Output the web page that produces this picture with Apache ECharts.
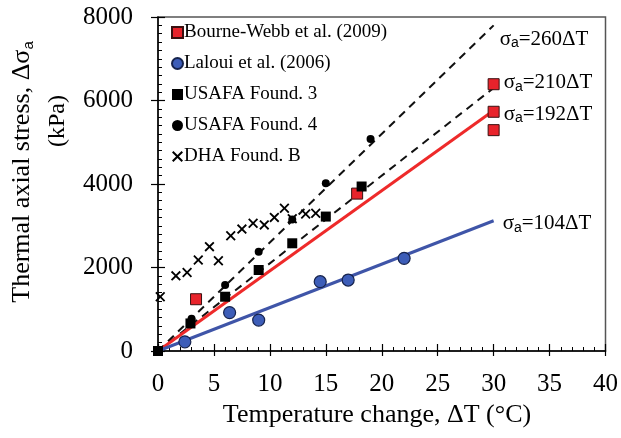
<!DOCTYPE html>
<html><head><meta charset="utf-8">
<script src="https://cdn.jsdelivr.net/npm/echarts@6/dist/echarts.min.js"></script>
<style>html,body{margin:0;padding:0;background:#fff}#c{width:621px;height:438px}</style>
</head><body><div id="c"></div>
<script>
// ---- data ----
const bourneT = [3.4, 17.8, 30, 30, 30];
const bourneS = [1240, 3770, 6390, 5730, 5290];
const lalouiT = [2.4, 6.4, 9.0, 14.5, 17.0, 22.0];
const lalouiS = [220, 920, 740, 1660, 1700, 2220];
const usafa3T = [0, 2.9, 6.0, 9.0, 12.0, 15.0, 18.2];
const usafa3S = [0, 660, 1300, 1940, 2580, 3220, 3940];
const usafa4T = [0, 3.0, 6.0, 9.0, 12.0, 15.0, 19.0];
const usafa4S = [0, 770, 1580, 2380, 3150, 4020, 5080];
const dhaT = [0.2, 1.6, 2.6, 3.6, 4.6, 5.4, 6.5, 7.5, 8.5, 9.5, 10.4, 11.3, 12.0, 13.2, 14.1];
const dhaS = [1300, 1800, 1880, 2180, 2500, 2160, 2760, 2920, 3060, 3020, 3200, 3420, 3170, 3280, 3300];
// fitted lines sigma_a = k * dT, drawn between dT = 0 and 30
const fitT = [0, 30];
const fit260 = [0, 7800];
const fit210 = [0, 6300];
const fit192 = [0, 5760];
const fit104 = [0, 3120];
const fitLabels = ['260', '210', '192', '104'];
const legendNames = ['Bourne-Webb et al. (2009)', 'Laloui et al. (2006)', 'USAFA Found. 3', 'USAFA Found. 4', 'DHA Found. B'];
const xTitle = 'Temperature change, \u0394T (\u00B0C)';

const zip = (a, b) => a.map((v, i) => [v, b[i]]);
const SERIF = 'Liberation Serif';
const crossPath = 'path://M0,1.3L1.3,0L5,3.7L8.7,0L10,1.3L6.3,5L10,8.7L8.7,10L5,6.3L1.3,10L0,8.7L3.7,5Z';

const chart = echarts.init(document.getElementById('c'), null, {renderer: 'canvas'});

function fitLine(data, color, dashed, label, offset) {
  return {
    type: 'line', data: data, symbol: 'none', z: 2, silent: true,
    lineStyle: {color: color, width: dashed ? 2 : 3, type: dashed ? [8, 6] : 'solid'},
    endLabel: {
      show: true, distance: 0, offset: offset,
      formatter: '{s|\u03C3}{sub|a}{s|=' + label + '\u0394T}',
      rich: {
        s: {fontFamily: SERIF, fontSize: 21, color: '#000', lineHeight: 22},
        sub: {fontFamily: 'Liberation Sans', fontSize: 14, color: '#000', verticalAlign: 'bottom', lineHeight: 8}
      }
    }
  };
}

const axisCommon = {
  type: 'value',
  splitLine: {show: false},
  axisLine: {show: true, onZero: false, lineStyle: {color: '#000', width: 1.5}},
};

chart.setOption({
  animation: false,
  backgroundColor: '#fff',
  grid: {left: 158, right: 12, top: 17, bottom: 87, show: true, borderColor: '#555', borderWidth: 1.5},
  xAxis: [
    Object.assign({}, axisCommon, {
      min: 0, max: 40, interval: 5,
      axisTick: {inside: true, length: 7, lineStyle: {color: '#000', width: 1.2}},
      minorTick: {show: true, splitNumber: 5, length: 4, lineStyle: {color: '#000', width: 1}},
      axisLabel: {fontFamily: SERIF, fontSize: 25, color: '#000', margin: 21}
    }),
    Object.assign({}, axisCommon, {
      position: 'bottom', min: 0, max: 40, interval: 5,
      axisLine: {show: false},
      axisTick: {inside: false, length: 5, lineStyle: {color: '#000', width: 1.2}},
      axisLabel: {show: false}
    })
  ],
  yAxis: [
    Object.assign({}, axisCommon, {
      min: 0, max: 8000, interval: 2000,
      axisTick: {inside: true, length: 7, lineStyle: {color: '#000', width: 1.2}},
      minorTick: {show: true, splitNumber: 10, length: 4, lineStyle: {color: '#000', width: 1}},
      axisLabel: {fontFamily: SERIF, fontSize: 25, color: '#000', margin: 25, formatter: v => String(v)}
    }),
    Object.assign({}, axisCommon, {
      position: 'left', min: 0, max: 8000, interval: 2000,
      axisLine: {show: false},
      axisTick: {inside: false, length: 7, lineStyle: {color: '#000', width: 1.2}},
      axisLabel: {show: false}
    })
  ],
  legend: {
    data: legendNames,
    orient: 'vertical', left: 166, top: 18,
    itemWidth: 11, itemHeight: 11, itemGap: 12,
    textStyle: {fontFamily: SERIF, fontSize: 19, color: '#000', padding: [0, 0, 0, -4]},
    selectedMode: false
  },
  series: [
    fitLine(zip(fitT, fit260), '#111', true, fitLabels[0], [6, 14]),
    fitLine(zip(fitT, fit210), '#111', true, fitLabels[1], [10, -5]),
    fitLine(zip(fitT, fit192), '#ee2a2a', false, fitLabels[2], [10, 4]),
    fitLine(zip(fitT, fit104), '#3f55a8', false, fitLabels[3], [9, 3]),
    {name: legendNames[0], type: 'scatter', data: zip(bourneT, bourneS), symbol: 'rect', symbolSize: 11, z: 4,
      itemStyle: {color: '#e8232b', borderColor: '#3a1010', borderWidth: 1, opacity: 1}},
    {name: legendNames[1], type: 'scatter', data: zip(lalouiT, lalouiS), symbol: 'circle', symbolSize: 12, z: 4,
      itemStyle: {color: '#3d5db8', borderColor: '#16234d', borderWidth: 1.2, opacity: 1}},
    {name: legendNames[2], type: 'scatter', data: zip(usafa3T, usafa3S), symbol: 'rect', symbolSize: 10, z: 5,
      itemStyle: {color: '#000', opacity: 1}},
    {name: legendNames[3], type: 'scatter', data: zip(usafa4T, usafa4S), symbol: 'circle', symbolSize: 8, z: 5,
      itemStyle: {color: '#000', opacity: 1}},
    {name: legendNames[4], type: 'scatter', data: zip(dhaT, dhaS), symbol: crossPath, symbolSize: 10, z: 5,
      itemStyle: {color: '#000', opacity: 1}}
  ],
  graphic: [
    {type: 'text', x: 8, y: 172, rotation: Math.PI / 2,
      style: {text: '{t|Thermal axial stress, \u0394\u03C3}{sub|a}', align: 'center', verticalAlign: 'top',
        rich: {t: {fontFamily: SERIF, fontSize: 26, fill: '#000', lineHeight: 28},
               sub: {fontFamily: 'Liberation Sans', fontSize: 15, fill: '#000', verticalAlign: 'bottom', lineHeight: 12}}}},
    {type: 'text', x: 46, y: 121, rotation: Math.PI / 2,
      style: {text: '(kPa)', align: 'center', verticalAlign: 'top', font: '24px "Liberation Serif"', fill: '#000'}},
    {type: 'text', x: 377, y: 402,
      style: {text: xTitle, align: 'center', verticalAlign: 'top', font: '26px "Liberation Serif"', fill: '#000'}}
  ]
});
</script></body></html>
